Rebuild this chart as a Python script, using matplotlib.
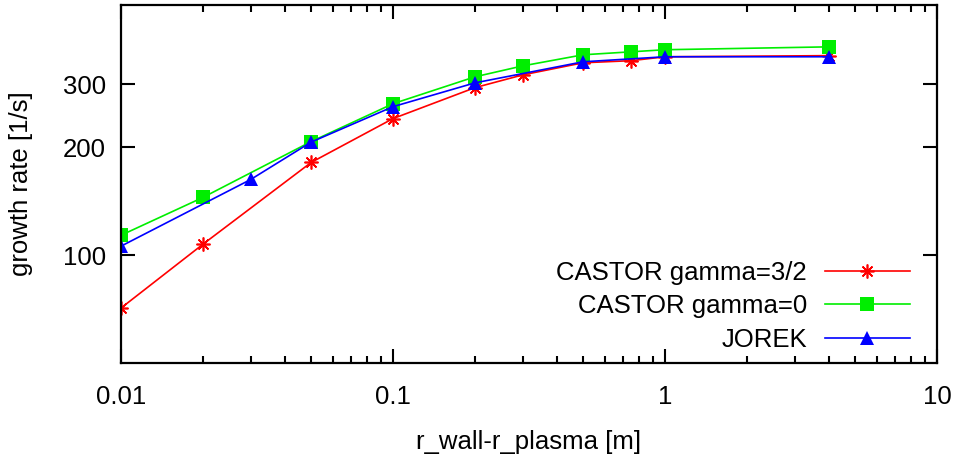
import matplotlib
matplotlib.use('Agg')
import matplotlib.pyplot as plt
from matplotlib.ticker import FixedLocator, LogLocator, NullFormatter, NullLocator

plt.rcParams['font.family'] = ['Liberation Sans', 'DejaVu Sans']

# growth rate vs wall distance
x_castor = [0.01, 0.02, 0.05, 0.1, 0.2, 0.3, 0.5, 0.75, 1.0, 4.0]
g_castor_32 = [71.2, 107.3, 181.6, 240.8, 293.8, 319.0, 344.8, 349.5, 358.4, 361.0]
g_castor_0 = [113.7, 145.0, 207.7, 265.0, 315.0, 338.0, 363.0, 370.0, 375.0, 382.0]

x_jorek = [0.01, 0.03, 0.05, 0.1, 0.2, 0.5, 1.0, 4.0]
g_jorek = [106.0, 162.8, 207.0, 260.0, 303.0, 347.0, 358.4, 358.4]

y_ticks = [100, 200, 300]

fs = 18.5

fig = plt.figure(figsize=(9.65, 4.67), dpi=100)
ax = fig.add_axes([121 / 965, 1 - 363 / 467, (937 - 121) / 965, (363 - 5) / 467])

ax.plot(x_castor, g_castor_32, '-', color='#ff0000', lw=1.2,
        marker=(8, 2, 0), ms=10, mew=1.2, label='CASTOR gamma=3/2')
ax.plot(x_castor, g_castor_0, '-', color='#00ee00', lw=1.2,
        marker='s', ms=10, mew=0, label='CASTOR gamma=0')
ax.plot(x_jorek, g_jorek, '-', color='#0000ff', lw=1.2,
        marker='^', ms=10, mew=0, label='JOREK')

ax.set_xscale('log')
ax.set_yscale('log')
ax.set_xlim(0.01, 10)
ax.set_ylim(50, 500)

ax.xaxis.set_major_locator(FixedLocator([0.01, 0.1, 1, 10]))
ax.xaxis.set_minor_locator(LogLocator(base=10, subs=range(2, 10)))
ax.xaxis.set_minor_formatter(NullFormatter())
ax.set_xticklabels(['0.01', '0.1', '1', '10'])

ax.yaxis.set_major_locator(FixedLocator(y_ticks))
ax.yaxis.set_minor_locator(NullLocator())
ax.set_yticklabels([str(v) for v in y_ticks])

ax.tick_params(which='both', direction='in', top=True, right=True,
               labelsize=fs, width=1.5)
ax.tick_params(which='major', length=10)
ax.tick_params(which='minor', length=5)
ax.tick_params(axis='x', which='major', pad=16)
ax.tick_params(axis='y', which='major', pad=11)
for s in ax.spines.values():
    s.set_linewidth(1.6)

ax.set_xlabel('r_wall-r_plasma [m]', fontsize=fs, labelpad=15)
ax.set_ylabel('growth rate [1/s]', fontsize=fs)
ax.yaxis.set_label_coords(-88 / 816, 0.5)

ax.legend(loc='lower right', bbox_to_anchor=(0.979, 0.003), frameon=False,
          markerfirst=False, fontsize=fs, handlelength=3.3,
          handletextpad=0.7, labelspacing=0.36, borderaxespad=0)

fig.savefig('out.png', dpi=100)
